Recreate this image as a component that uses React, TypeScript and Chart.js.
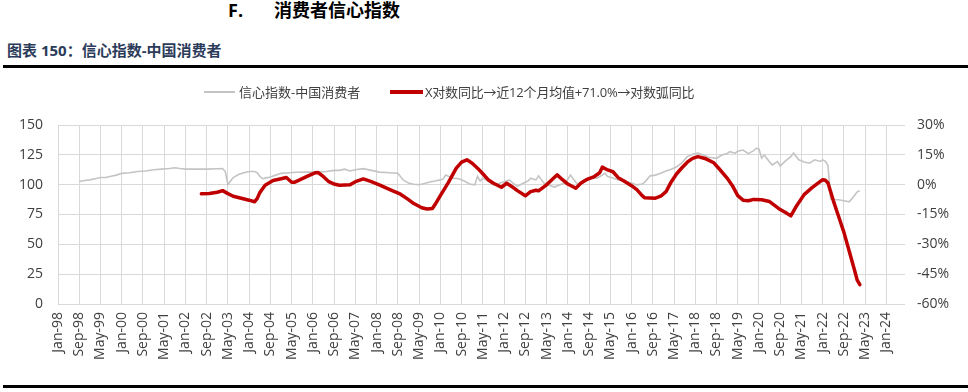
import React, { useEffect, useRef } from "react";
import { Chart, registerables } from "chart.js";

Chart.register(...registerables);

// x values are month indices counted from Jan-98 (= 0)
const xTickLabels = [
  "Jan-98", "Sep-98", "May-99", "Jan-00", "Sep-00", "May-01", "Jan-02", "Sep-02",
  "May-03", "Jan-04", "Sep-04", "May-05", "Jan-06", "Sep-06", "May-07", "Jan-08",
  "Sep-08", "May-09", "Jan-10", "Sep-10", "May-11", "Jan-12", "Sep-12", "May-13",
  "Jan-14", "Sep-14", "May-15", "Jan-16", "Sep-16", "May-17", "Jan-18", "Sep-18",
  "May-19", "Jan-20", "Sep-20", "May-21", "Jan-22", "Sep-22", "May-23", "Jan-24",
];

const seriesNames = ["信心指数-中国消费者", "X对数同比→近12个月均值+71.0%→对数弧同比"];

// 信心指数-中国消费者 (left axis)
const greyMonths = [
  8, 10, 12, 14, 16, 18, 20, 22, 24, 27, 30, 33, 36, 39, 42, 44, 46, 48, 52, 56, 60, 62, 63, 64, 65, 66, 68,
  70, 72, 74, 75, 76, 77, 78, 80, 82, 84, 87, 90, 94, 98, 101, 104, 106, 108, 110, 112, 115, 118, 121, 125,
  128, 130, 132, 134, 136, 138, 140, 142, 144, 145, 146, 147, 149, 151, 153, 155, 157, 158, 159, 160, 162,
  164, 166, 168, 170, 171, 173, 175, 177, 178, 180, 181, 183, 185, 187, 189, 191, 193, 195, 196, 198, 200,
  203, 205, 206, 207, 209, 211, 214, 216, 218, 220, 221, 223, 225, 227, 229, 231, 233, 235, 237, 239, 241,
  243, 245, 248, 250, 252, 253, 255, 256, 258, 260, 262, 263, 264, 265, 266, 268, 269, 271, 272, 274, 276,
  277, 279, 281, 283, 285, 287, 288, 289, 290, 291, 292, 294, 296, 298, 300, 301, 302,
];
const greyValues = [
  102.6, 103.5, 104, 105, 106, 106, 107, 108, 109.5, 110, 111, 111.5, 112.5, 113, 113.5, 114.2, 113.5, 113,
  113, 113, 113.3, 113.5, 111, 100, 103, 106, 108.5, 110, 111, 111, 110, 107, 105, 105.5, 106.5, 108, 109.5,
  110, 110.4, 110.5, 110.5, 111, 112, 112, 113, 111.5, 112.5, 113.4, 112, 110.5, 110, 109.6, 104, 101.3,
  100.3, 100, 101, 102.2, 103, 104, 104.6, 108, 107, 105.5, 105, 103, 100.5, 99.8, 107, 103, 105.4, 103,
  99.8, 101, 102.5, 104, 102, 98.6, 101, 103, 105.4, 104, 107.4, 101.3, 99.5, 98, 100, 101.3, 108, 102,
  100.4, 103.5, 105.4, 105.4, 108, 109.6, 106.8, 105.5, 104, 102.5, 101.3, 99.8, 100.5, 102.2, 107.4, 108,
  109.6, 111.5, 113, 115, 118.5, 123.5, 125.5, 126.4, 124.9, 123, 122.1, 124.9, 126, 127.7, 126.4, 128, 129,
  126, 128.5, 130.5, 130, 122.2, 124.9, 119, 116.6, 119.4, 115.7, 120, 123.5, 126.4, 120.8, 119, 118, 120.8,
  119.5, 120.8, 119.5, 116, 88, 87.3, 87.3, 86.5, 85.6, 91, 94, 94.9,
];

// X对数同比→近12个月均值+71.0%→对数弧同比 (right axis, %)
const redMonths = [
  54, 57, 60, 62, 64, 66, 69, 72, 74, 75, 76, 78, 81, 84, 86, 88, 89, 91, 94, 97, 98, 100, 102, 104, 106,
  110, 112, 115, 118, 121, 125, 129, 132, 134, 137, 139, 141, 142, 144, 147, 150, 152, 154, 156, 158, 160,
  162, 164, 167, 169, 171, 173, 176, 178, 180, 181, 184, 186, 188, 190, 192, 195, 197, 199, 202, 204, 205,
  207, 209, 211, 213, 216, 218, 220, 221, 225, 227, 229, 231, 233, 235, 237, 239, 241, 244, 247, 249, 252,
  254, 256, 258, 260, 262, 265, 268, 270, 272, 274, 276, 278, 281, 284, 286, 288, 289, 290, 292, 294, 296,
  298, 300, 301, 302,
];
const redValues = [
  -4.6, -4.4, -3.8, -3.0, -4.5, -5.8, -6.8, -7.8, -8.6, -7, -4, -0.3, 2.1, 3.0, 3.6, 1.2, 1.2, 2.4, 4.3, 6.0,
  6.1, 4, 1.5, 0.3, -0.3, -0.1, 1.5, 2.9, 1.5, -0.1, -2.5, -4.8, -7.5, -9.5, -11.6, -12.2, -12.0, -10, -5.5,
  1, 8.3, 11.3, 12.5, 10.8, 8.3, 5.5, 2.5, 0.7, -1.3, 0.7, -1, -3, -5.6, -3.5, -2.8, -3.1, -0.1, 2.5, 4.9,
  2.5, 0.3, -1.8, 0.8, 2.5, 4.1, 6, 8.8, 7.4, 6.5, 3.5, 2, -0.5, -2.5, -5.5, -6.6, -6.8, -5.8, -3.5, 1.5,
  5.5, 8.5, 11.3, 13.2, 14.1, 13, 11, 8, 3.3, -0.5, -5.5, -7.8, -8.1, -7.4, -7.6, -8.5, -10.5, -12.5, -14,
  -15.7, -11, -5, -1.5, 0.5, 2.5, 2.2, 0.8, -8, -16, -24, -33.5, -43, -48, -50.3,
];

const leftTicks = { min: 0, max: 150, step: 25 };
const rightTicks = { min: -60, max: 30, step: 15 };

const TICK_FONT = { family: "'Open Sans', 'Noto Sans CJK SC', sans-serif", size: 14 };
const TEXT_COLOR = "#404040";
const GRID = "#d9d9d9";

export default function App() {
  const ref = useRef<HTMLCanvasElement | null>(null);

  useEffect(() => {
    if (!ref.current) return;
    const greyData = greyMonths.map((m, i) => ({ x: m, y: greyValues[i] }));
    const redData = redMonths.map((m, i) => ({ x: m, y: redValues[i] }));
    const chart = new Chart(ref.current, {
      type: "line",
      data: {
        datasets: [
          {
            label: seriesNames[1],
            data: redData,
            borderColor: "#c00000",
            borderWidth: 3.5,
            pointRadius: 0,
            yAxisID: "y1",
            order: 1,
            borderCapStyle: "round",
            borderJoinStyle: "round",
          },
          {
            label: seriesNames[0],
            data: greyData,
            borderColor: "#c4c4c4",
            borderWidth: 1.6,
            pointRadius: 0,
            yAxisID: "y",
            order: 2,
          },
        ],
      },
      options: {
        animation: false,
        responsive: false,
        layout: { padding: { top: 125, left: 0, right: 0, bottom: 0 } },
        plugins: { legend: { display: false }, tooltip: { enabled: false } },
        scales: {
          x: {
            type: "linear",
            min: 0,
            max: 319,
            afterFit: (s: any) => {
              s.height = 88;
            },
            grid: { color: GRID, lineWidth: 1, drawTicks: false },
            border: { display: false },
            ticks: {
              stepSize: 8,
              includeBounds: false,
              autoSkip: false,
              minRotation: 90,
              maxRotation: 90,
              padding: 8,
              color: TEXT_COLOR,
              font: TICK_FONT,
              callback: (v: any) => xTickLabels[Math.round(Number(v) / 8)] ?? "",
            },
          },
          y: {
            position: "left",
            min: leftTicks.min,
            max: leftTicks.max,
            afterFit: (s: any) => {
              s.width = 58;
            },
            grid: { color: GRID, lineWidth: 1, drawTicks: false },
            border: { display: false },
            ticks: { stepSize: leftTicks.step, padding: 15, color: TEXT_COLOR, font: TICK_FONT },
          },
          y1: {
            position: "right",
            min: rightTicks.min,
            max: rightTicks.max,
            afterFit: (s: any) => {
              s.width = 63;
            },
            grid: { display: false, drawTicks: false },
            border: { display: false },
            ticks: {
              stepSize: rightTicks.step,
              padding: 12,
              color: TEXT_COLOR,
              font: TICK_FONT,
              callback: (v: any) => `${v}%`,
            },
          },
        },
      },
    } as any);
    return () => chart.destroy();
  }, []);

  const cjk = "'Open Sans', 'Noto Sans CJK SC', sans-serif";

  return (
    <div style={{ position: "fixed", left: 0, top: 0, width: 968, height: 392, background: "#fff", overflow: "hidden" }}>
      <div style={{ position: "absolute", left: 228, top: 0, fontFamily: cjk, fontWeight: 700, fontSize: 18, lineHeight: "20px", color: "#000" }}>
        F.
      </div>
      <div style={{ position: "absolute", left: 274, top: 0, fontFamily: cjk, fontWeight: 700, fontSize: 18, lineHeight: "20px", color: "#000" }}>
        消费者信心指数
      </div>
      <div style={{ position: "absolute", left: 7, top: 41, fontFamily: cjk, fontWeight: 700, fontSize: 15, lineHeight: "18px", color: "#2b3b5a", whiteSpace: "nowrap" }}>
        图表 150：信心指数-中国消费者
      </div>
      <div style={{ position: "absolute", left: 3, top: 65, width: 965, height: 3, background: "#000" }} />
      <div style={{ position: "absolute", left: 3, top: 385, width: 965, height: 3, background: "#000" }} />
      <canvas ref={ref} width={968} height={392} style={{ position: "absolute", left: 0, top: 0, width: 968, height: 392 }} />
      <div style={{ position: "absolute", left: 204, top: 91, width: 31, height: 2, background: "#c4c4c4" }} />
      <div style={{ position: "absolute", left: 239, top: 83, fontFamily: cjk, fontSize: 13, lineHeight: "18px", color: TEXT_COLOR, whiteSpace: "nowrap" }}>
        {seriesNames[0]}
      </div>
      <div style={{ position: "absolute", left: 390, top: 90, width: 33, height: 4, background: "#c00000" }} />
      <div style={{ position: "absolute", left: 425, top: 83, fontFamily: cjk, fontSize: 13, lineHeight: "18px", color: TEXT_COLOR, whiteSpace: "nowrap", letterSpacing: "-0.2px" }}>
        {seriesNames[1]}
      </div>
    </div>
  );
}
